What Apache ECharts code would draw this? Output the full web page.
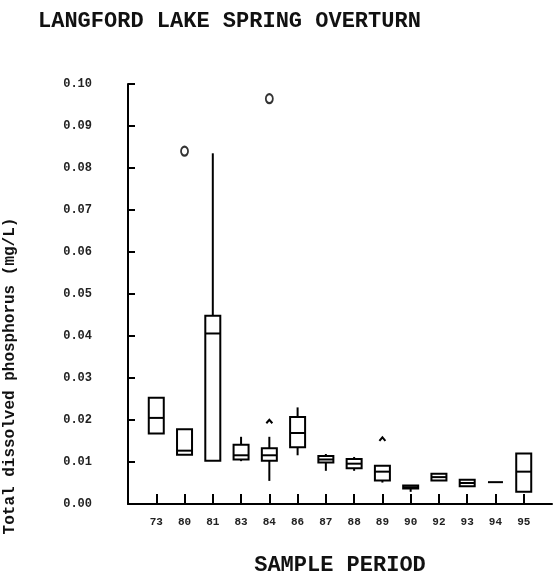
<!DOCTYPE html>
<html>
<head>
<meta charset="utf-8">
<script src="https://cdn.jsdelivr.net/npm/echarts@6/dist/echarts.min.js"></script>
<style>
  html, body { margin: 0; padding: 0; background: #fff; }
  #chart { width: 555px; height: 581px; }
</style>
</head>
<body>
<div id="chart"></div>
<script>
// Sample periods (year of sampling)
const categories = ['73', '80', '81', '83', '84', '86', '87', '88', '89', '90', '92', '93', '94', '95'];

// Box summary per period: lower whisker, lower hinge, median, upper hinge, upper whisker (mg/L)
const whiskerLow  = [0.0168, 0.0117, 0.0103, 0.0102, 0.0055, 0.0116, 0.0079, 0.0079, 0.0051, 0.0029, 0.0056, 0.0042, 0.0052, 0.0029];
const hingeLow    = [0.0168, 0.0117, 0.0103, 0.0106, 0.0103, 0.0135, 0.0099, 0.0085, 0.0056, 0.0037, 0.0056, 0.0042, 0.0052, 0.0029];
const median      = [0.0205, 0.0127, 0.0406, 0.0116, 0.0116, 0.0169, 0.0106, 0.0096, 0.0077, 0.0040, 0.0064, 0.0050, 0.0052, 0.0077];
const hingeHigh   = [0.0253, 0.0178, 0.0448, 0.0141, 0.0133, 0.0207, 0.0114, 0.0107, 0.0091, 0.0044, 0.0072, 0.0058, 0.0052, 0.0120];
const whiskerHigh = [0.0253, 0.0178, 0.0835, 0.0160, 0.0160, 0.0230, 0.0119, 0.0112, 0.0091, 0.0044, 0.0072, 0.0058, 0.0052, 0.0120];

// Outside values (*) and far-outside values (o): [period index, value]
const outsideValues = [[4, 0.0197], [8, 0.0155]];
const farOutsideValues = [[1, 0.0840], [4, 0.0965]];

// Y-axis ticks
const yMin = 0, yMax = 0.10, yStep = 0.01;

// Category axis padded with one empty slot on each end
const axisCats = [''].concat(categories, ['']);

const boxData = categories.map((c, i) => [i + 1, whiskerLow[i], hingeLow[i], median[i], hingeHigh[i], whiskerHigh[i]]);
const outsideData = outsideValues.map(d => [d[0] + 1, d[1]]);
const farData = farOutsideValues.map(d => [d[0] + 1, d[1]]);

const INK = '#000';
const FONT = '"Liberation Mono", "DejaVu Sans Mono", monospace';

function renderBox(params, api) {
  const x = api.value(0);
  const pLow = api.coord([x, api.value(1)]);
  const pQ1 = api.coord([x, api.value(2)]);
  const pMed = api.coord([x, api.value(3)]);
  const pQ3 = api.coord([x, api.value(4)]);
  const pHigh = api.coord([x, api.value(5)]);
  const cx = pQ1[0];
  const half = 7.5;
  const style = { stroke: INK, lineWidth: 2, fill: null };
  const children = [];
  if (pQ3[1] < pQ1[1] - 0.5) {
    children.push({ type: 'rect', shape: { x: cx - half, y: pQ3[1], width: half * 2, height: pQ1[1] - pQ3[1] }, style: { stroke: INK, lineWidth: 2, fill: '#fff' } });
  }
  children.push({ type: 'line', shape: { x1: cx - half, y1: pMed[1], x2: cx + half, y2: pMed[1] }, style });
  if (pHigh[1] < pQ3[1] - 0.5) {
    children.push({ type: 'line', shape: { x1: cx, y1: pQ3[1], x2: cx, y2: pHigh[1] }, style });
  }
  if (pLow[1] > pQ1[1] + 0.5) {
    children.push({ type: 'line', shape: { x1: cx, y1: pQ1[1], x2: cx, y2: pLow[1] }, style });
  }
  return { type: 'group', children };
}

function renderCaret(params, api) {
  const p = api.coord([api.value(0), api.value(1)]);
  return {
    type: 'polyline',
    shape: { points: [[p[0] - 3, p[1] + 2], [p[0], p[1] - 1.5], [p[0] + 3, p[1] + 2]] },
    style: { stroke: INK, lineWidth: 2, fill: null }
  };
}

const chart = echarts.init(document.getElementById('chart'), null, { renderer: 'canvas' });

chart.setOption({
  backgroundColor: '#fff',
  animation: false,
  title: {
    text: 'LANGFORD LAKE SPRING OVERTURN',
    left: 33,
    top: 5,
    textStyle: { fontFamily: FONT, fontWeight: 'bold', fontSize: 22, color: '#111' }
  },
  grid: { left: 128, right: 2, top: 84, bottom: 67, containLabel: false },
  xAxis: {
    type: 'category',
    data: axisCats,
    boundaryGap: false,
    name: 'SAMPLE PERIOD',
    nameLocation: 'middle',
    nameGap: 50,
    nameTextStyle: { fontFamily: FONT, fontWeight: 'bold', fontSize: 22, color: '#111' },
    axisLine: { lineStyle: { color: INK, width: 2 } },
    axisTick: {
      inside: true,
      length: 10,
      lineStyle: { color: INK, width: 2 },
      interval: (idx) => idx > 0 && idx < axisCats.length - 1
    },
    axisLabel: {
      interval: 0,
      margin: 13,
      fontFamily: FONT,
      fontWeight: 'bold',
      fontSize: 11,
      color: '#222'
    },
    splitLine: { show: false }
  },
  yAxis: {
    type: 'value',
    min: yMin,
    max: yMax,
    interval: yStep,
    axisLine: { show: true, lineStyle: { color: INK, width: 2 } },
    axisTick: { show: true, inside: true, length: 7, lineStyle: { color: INK, width: 2 } },
    axisLabel: {
      margin: 36,
      fontFamily: FONT,
      fontWeight: 'bold',
      fontSize: 12,
      color: '#222',
      formatter: v => v.toFixed(2)
    },
    splitLine: { show: false }
  },
  graphic: [{
    type: 'text',
    x: 10,
    y: 376,
    rotation: Math.PI / 2,
    style: {
      text: 'Total dissolved phosphorus (mg/L)',
      fontFamily: FONT,
      fontWeight: 'bold',
      fontSize: 16,
      fill: '#111',
      textAlign: 'center',
      textVerticalAlign: 'middle'
    }
  }],
  series: [
    {
      type: 'custom',
      name: 'boxes',
      renderItem: renderBox,
      data: boxData,
      encode: { x: 0, y: [1, 2, 3, 4, 5] },
      z: 3
    },
    {
      type: 'scatter',
      name: 'far outside',
      data: farData,
      symbol: 'emptyCircle',
      symbolSize: [7, 9],
      itemStyle: { color: INK, borderColor: INK, borderWidth: 2 },
      z: 4
    },
    {
      type: 'custom',
      name: 'outside',
      renderItem: renderCaret,
      data: outsideData,
      z: 4
    }
  ]
});
</script>
</body>
</html>
